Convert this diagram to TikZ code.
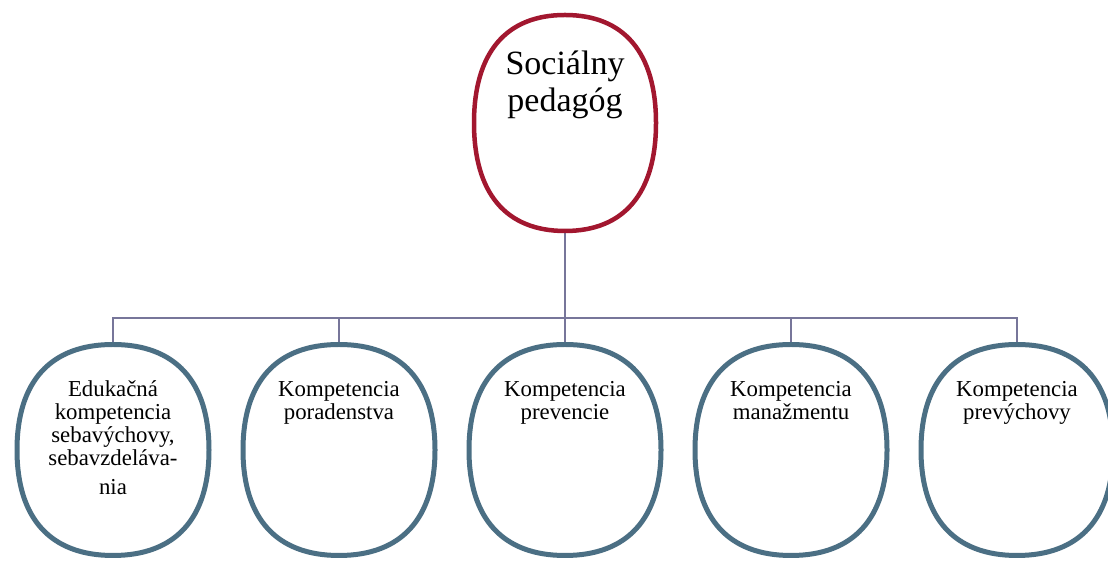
\documentclass[tikz,border=0pt]{standalone}
\usepackage{fontspec}
\setmainfont{Liberation Serif}
\definecolor{rootred}{HTML}{A2172F}
\definecolor{leafblue}{HTML}{4B6F84}
\definecolor{linkgray}{HTML}{77769A}
% control factor of the rounded (slightly squared oval) outlines
\newcommand\kk{0.65}
% #1 node name, #2 half width, #3 half height, #4 draw options
\newcommand\ovaloutline[4]{%
  \draw[#4, shift={(#1.center)}]
    (#2,0) .. controls (#2,\kk*#3) and (\kk*#2,#3) .. (0,#3)
    .. controls (-\kk*#2,#3) and (-#2,\kk*#3) .. (-#2,0)
    .. controls (-#2,-\kk*#3) and (-\kk*#2,-#3) .. (0,-#3)
    .. controls (\kk*#2,-#3) and (#2,-\kk*#3) .. (#2,0) -- cycle;}
\tikzset{
  rootbox/.style={rectangle, minimum width=182pt, minimum height=216pt, inner sep=0pt},
  leafbox/.style={rectangle, minimum width=192pt, minimum height=211pt, inner sep=0pt},
  rootline/.style={draw=rootred, line width=4.5pt, fill=white},
  leafline/.style={draw=leafblue, line width=5pt, fill=white},
  roottext/.style={anchor=base, inner sep=0pt, font=\fontsize{34}{37}\selectfont},
  leaftext/.style={anchor=base, inner sep=0pt, font=\fontsize{22.8}{23}\selectfont},
  link/.style={draw=linkgray, line width=1.8pt},
}
\begin{document}
\begin{tikzpicture}[x=1pt, y=1pt]
  \useasboundingbox (0,0) rectangle (1108,561);
  \fill[white] (0,0) rectangle (1108,561);

  % root and the five competences
  \node[rootbox] (root) at (565,438) {};
  \node[leafbox] (c1) at (113,111) {};
  \node[leafbox] (c2) at (339,111) {};
  \node[leafbox] (c3) at (565,111) {};
  \node[leafbox] (c4) at (791,111) {};
  \node[leafbox] (c5) at (1017,111) {};

  % tree connectors
  \coordinate (bus) at (565,243);
  \draw[link] (root.south) -- (bus);
  \draw[link] (c1.north) |- (bus) -| (c5.north);
  \draw[link] (c2.north) -- (c2.north |- bus);
  \draw[link] (c3.north) -- (bus);
  \draw[link] (c4.north) -- (c4.north |- bus);

  % outlines
  \ovaloutline{root}{91}{108}{rootline}
  \foreach \n in {c1,c2,c3,c4,c5} {\ovaloutline{\n}{96}{105.5}{leafline}}

  % labels
  \node[roottext] (roott) at (565,486)
    {\begin{tabular}[t]{@{}c@{}}Sociálny\\pedagóg\end{tabular}};
  \node[leaftext] (c1t) at (113,164)
    {\begin{tabular}[t]{@{}c@{}}Edukačná\\kompetencia\\sebavýchovy,\\sebavzdeláva-\\[6pt]nia\end{tabular}};
  \node[leaftext] (c2t) at (339,164)
    {\begin{tabular}[t]{@{}c@{}}Kompetencia\\poradenstva\end{tabular}};
  \node[leaftext] (c3t) at (565,164)
    {\begin{tabular}[t]{@{}c@{}}Kompetencia\\prevencie\end{tabular}};
  \node[leaftext] (c4t) at (791,164)
    {\begin{tabular}[t]{@{}c@{}}Kompetencia\\manažmentu\end{tabular}};
  \node[leaftext] (c5t) at (1017,164)
    {\begin{tabular}[t]{@{}c@{}}Kompetencia\\prevýchovy\end{tabular}};
\end{tikzpicture}
\end{document}
